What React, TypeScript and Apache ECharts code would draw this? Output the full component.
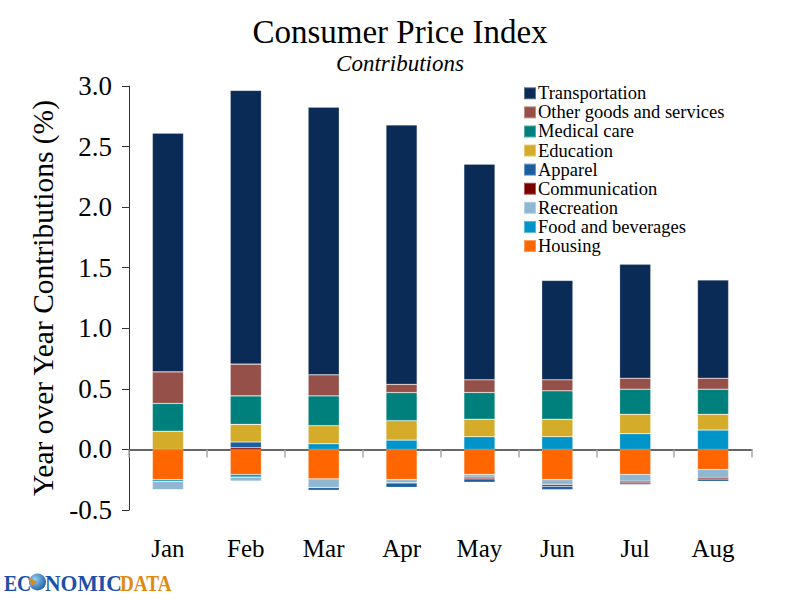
import React, { useEffect, useRef } from "react";
import * as echarts from "echarts";

const months = ["Jan", "Feb", "Mar", "Apr", "May", "Jun", "Jul", "Aug"];
const housing = [-0.25, -0.207, -0.243, -0.249, -0.207, -0.249, -0.207, -0.166];
const foodBev = [-0.013, -0.022, 0.047, 0.077, 0.105, 0.105, 0.13, 0.16];
const recreation = [-0.07, -0.033, -0.072, -0.028, -0.022, -0.041, -0.055, -0.064];
const communication = [0, 0.014, 0, 0, -0.014, -0.014, -0.014, -0.014];
const apparel = [0, 0.047, -0.022, -0.036, -0.028, -0.028, -0.014, -0.019];
const education = [0.15, 0.146, 0.149, 0.16, 0.144, 0.144, 0.16, 0.13];
const medical = [0.23, 0.235, 0.246, 0.232, 0.221, 0.235, 0.207, 0.207];
const otherGoods = [0.26, 0.262, 0.174, 0.069, 0.105, 0.091, 0.091, 0.091];
const transportation = [1.97, 2.26, 2.21, 2.14, 1.78, 0.82, 0.94, 0.81];

const seriesDefs = [
  { name: "Housing", data: housing, color: "#ff6600" },
  { name: "Food and beverages", data: foodBev, color: "#0094c8" },
  { name: "Recreation", data: recreation, color: "#8fb7d2" },
  { name: "Communication", data: communication, color: "#7a0000" },
  { name: "Apparel", data: apparel, color: "#1b5e9e" },
  { name: "Education", data: education, color: "#d4ac2a" },
  { name: "Medical care", data: medical, color: "#00807c" },
  { name: "Other goods and services", data: otherGoods, color: "#955049" },
  { name: "Transportation", data: transportation, color: "#0a2b56" },
];

const legendOrder = [
  "Transportation",
  "Other goods and services",
  "Medical care",
  "Education",
  "Apparel",
  "Communication",
  "Recreation",
  "Food and beverages",
  "Housing",
];

const serif = "'Palatino Linotype', 'Book Antiqua', Palatino, 'Liberation Serif', serif";
const logoFont = "'Liberation Serif', serif";

export default function App() {
  const ref = useRef<HTMLDivElement>(null);
  useEffect(() => {
    if (!ref.current) return;
    const chart = echarts.init(ref.current, null, { renderer: "svg" });
    chart.setOption({
      animation: false,
      backgroundColor: "#ffffff",
      title: {
        text: "Consumer Price Index",
        subtext: "Contributions",
        left: "center",
        top: 10,
        itemGap: 4,
        textStyle: { fontFamily: serif, fontSize: 33, fontWeight: "normal", color: "#000" },
        subtextStyle: { fontFamily: serif, fontSize: 23, fontStyle: "italic", color: "#000" },
      },
      legend: {
        data: legendOrder,
        orient: "vertical",
        left: 518,
        top: 78.75,
        itemWidth: 12,
        itemHeight: 12,
        itemGap: 0.1,
        icon: "rect",
        textStyle: { fontFamily: serif, fontSize: 18.5, lineHeight: 18.5, color: "#000", padding: [0, 0, 0, -3] },
      },
      grid: { left: 129, right: 48, top: 86, bottom: 90, containLabel: false },
      xAxis: [
        {
          type: "category",
          data: months,
          axisLine: { onZero: true, lineStyle: { color: "#333", width: 1.5 } },
          axisTick: { show: true, length: 8, lineStyle: { color: "#aaa", width: 1.5 } },
          axisLabel: { show: false },
        },
        {
          type: "category",
          data: months,
          position: "bottom",
          axisLine: { show: false },
          axisTick: { show: false },
          axisLabel: { fontFamily: serif, fontSize: 25, color: "#000", margin: 26 },
        },
      ],
      yAxis: {
        type: "value",
        min: -0.5,
        max: 3.0,
        interval: 0.5,
        name: "Year over Year Contributions (%)",
        nameLocation: "middle",
        nameGap: 70,
        nameTextStyle: { fontFamily: serif, fontSize: 29.5, color: "#000" },
        axisLine: { show: true, lineStyle: { color: "#333", width: 1 } },
        axisTick: { show: true, length: 7, lineStyle: { color: "#333" } },
        splitLine: { show: false },
        axisLabel: {
          fontFamily: serif,
          fontSize: 27,
          color: "#000",
          margin: 17,
          formatter: (v: number) => v.toFixed(1),
        },
      },
      series: seriesDefs.map((s) => ({
        name: s.name,
        type: "bar",
        stack: "total",
        xAxisIndex: 0,
        data: s.data,
        barWidth: "40%",
        itemStyle: { color: s.color, borderColor: "rgba(255,255,255,0.35)", borderWidth: 0.6 },
      })),
      graphic: [
        {
          type: "text",
          x: 4,
          y: 571,
          scaleX: 0.82,
          style: { text: "EC", fontFamily: logoFont, fontWeight: "bold", fontSize: 24, fill: "#1d4fa8" },
        },
        {
          type: "text",
          x: 45,
          y: 571,
          scaleX: 0.9,
          style: { text: "NOMIC", fontFamily: logoFont, fontWeight: "bold", fontSize: 24, fill: "#1d4fa8" },
        },
        {
          type: "text",
          x: 120,
          y: 571,
          scaleX: 0.8,
          style: { text: "DATA", fontFamily: logoFont, fontWeight: "bold", fontSize: 24, fill: "#e08a12" },
        },
        {
          type: "circle",
          shape: { cx: 37.5, cy: 582, r: 8.5 },
          style: {
            fill: new echarts.graphic.RadialGradient(0.35, 0.35, 0.8, [
              { offset: 0, color: "#8fd0f5" },
              { offset: 1, color: "#1352a0" },
            ]),
          },
        },
        {
          type: "polygon",
          shape: { points: [[30, 578], [37, 582], [31, 586]] },
          style: { fill: "#e08a12" },
        },
      ],
    });
    return () => chart.dispose();
  }, []);
  return (
    <div
      ref={ref}
      style={{ position: "fixed", left: 0, top: 0, width: 800, height: 600 }}
    />
  );
}
